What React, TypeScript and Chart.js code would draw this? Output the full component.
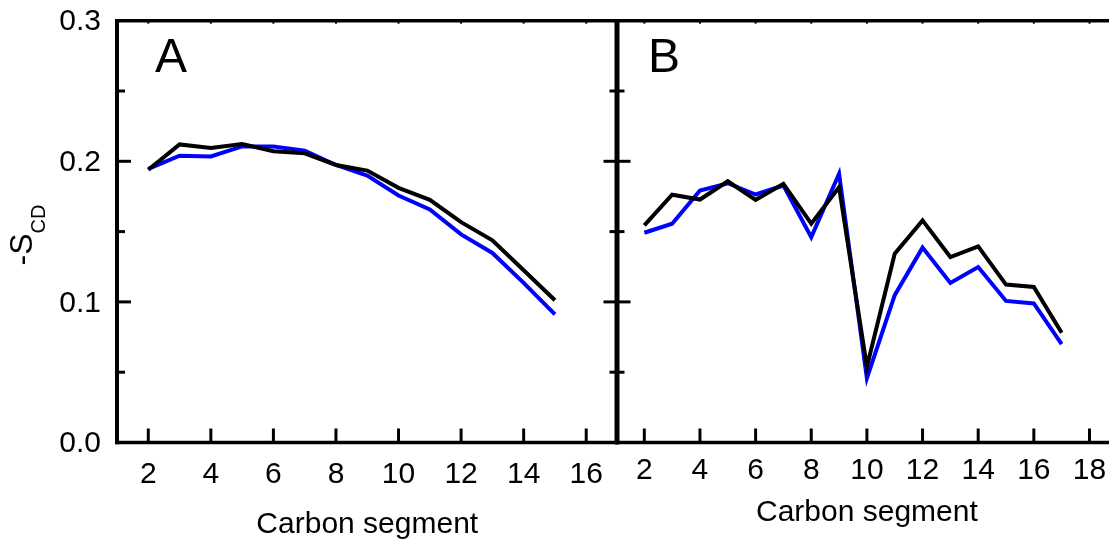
import React, { useEffect, useRef } from "react";
import { Chart, registerables } from "chart.js";

Chart.register(...registerables);

// ---------- data ----------
const carbonA = [2, 3, 4, 5, 6, 7, 8, 9, 10, 11, 12, 13, 14, 15];
const blackA = [0.194, 0.212, 0.2095, 0.2123, 0.2071, 0.2057, 0.1974, 0.1934, 0.1811, 0.1726, 0.1567, 0.1438, 0.1225, 0.1012];
const blueA = [0.1946, 0.204, 0.2035, 0.2106, 0.2106, 0.2076, 0.1974, 0.1899, 0.1757, 0.1657, 0.148, 0.1348, 0.1135, 0.0911];

const carbonB = [2, 3, 4, 5, 6, 7, 8, 9, 10, 11, 12, 13, 14, 15, 16, 17];
const blackB = [0.1544, 0.1762, 0.1728, 0.1858, 0.1726, 0.184, 0.1556, 0.1816, 0.0539, 0.1343, 0.158, 0.1319, 0.1395, 0.1123, 0.1106, 0.078];
const blueB = [0.1492, 0.1556, 0.1792, 0.1844, 0.1764, 0.1828, 0.1461, 0.1911, 0.0457, 0.1048, 0.1386, 0.1135, 0.1248, 0.1007, 0.0989, 0.07];

const yMajorTicks = [0, 0.1, 0.2, 0.3];
const yMinorTicks = [0.05, 0.15, 0.25];
const xTicksA = [2, 4, 6, 8, 10, 12, 14, 16];
const xTicksB = [2, 4, 6, 8, 10, 12, 14, 16, 18];
const panelLabels = ["A", "B"];
const xTitle = "Carbon segment";
const yTitleMain = "-S";
const yTitleSub = "CD";

const FONT = '"Liberation Sans", Arial, Helvetica, sans-serif';

type FrameOpts = {
  label: string;
  labelX: number;
  labelY: number;
  rightAxis: boolean;
  yTitle: boolean;
  xTicks: number[];
};

const framePlugin = {
  id: "frame",
  afterDraw(chart: any, _args: any, opts: FrameOpts) {
    const { ctx, chartArea } = chart;
    const { left, right, top, bottom } = chartArea;
    const xs = chart.scales.x;
    const ys = chart.scales.y;
    const seg = (x1: number, y1: number, x2: number, y2: number) => {
      ctx.beginPath();
      ctx.moveTo(x1, y1);
      ctx.lineTo(x2, y2);
      ctx.stroke();
    };
    ctx.save();
    ctx.strokeStyle = "#000";
    ctx.fillStyle = "#000";
    ctx.lineCap = "butt";

    // frame lines
    ctx.lineWidth = 3.5;
    seg(left - 1.75, top, right, top);
    seg(left - 1.75, bottom, right, bottom);
    ctx.lineWidth = 4;
    seg(left, top - 1.75, left, bottom + 1.75);
    if (opts.rightAxis) seg(right, top - 1.75, right, bottom + 1.75);

    // y ticks (inward)
    ctx.lineWidth = 3;
    for (const v of yMajorTicks) {
      const py = ys.getPixelForValue(v);
      if (v > 0 && v < 0.3) {
        seg(left, py, left + 14, py);
        if (opts.rightAxis) seg(right - 14, py, right, py);
      }
    }
    for (const v of yMinorTicks) {
      const py = ys.getPixelForValue(v);
      seg(left, py, left + 8, py);
      if (opts.rightAxis) seg(right - 8, py, right, py);
    }
    // x ticks (inward)
    for (const v of opts.xTicks) {
      const px = xs.getPixelForValue(v);
      seg(px, bottom, px, bottom - 14);
      ctx.lineWidth = 2;
      seg(px, top, px, top + 3);
      ctx.lineWidth = 3;
    }

    // panel label
    ctx.font = `48px ${FONT}`;
    ctx.textAlign = "left";
    ctx.textBaseline = "alphabetic";
    ctx.fillText(opts.label, left + opts.labelX, opts.labelY);

    // y axis title with subscript
    if (opts.yTitle) {
      ctx.save();
      ctx.translate(32, 235);
      ctx.rotate(-Math.PI / 2);
      ctx.font = `32px ${FONT}`;
      const w1 = ctx.measureText(yTitleMain).width;
      ctx.font = `20px ${FONT}`;
      const w2 = ctx.measureText(yTitleSub).width;
      const start = -(w1 + w2) / 2;
      ctx.font = `32px ${FONT}`;
      ctx.fillText(yTitleMain, start, 0);
      ctx.font = `20px ${FONT}`;
      ctx.fillText(yTitleSub, start + w1, 13);
      ctx.restore();
    }
    ctx.restore();
  },
};

type PanelProps = {
  canvasLeft: number;
  canvasWidth: number;
  areaLeft: number;
  padRight: number;
  xMin: number;
  xMax: number;
  xTicks: number[];
  carbon: number[];
  black: number[];
  blue: number[];
  label: string;
  labelX: number;
  tickPad: number;
  titlePad: number;
  rightAxis: boolean;
  showY: boolean;
};

function Panel(p: PanelProps) {
  const ref = useRef<HTMLCanvasElement | null>(null);
  useEffect(() => {
    if (!ref.current) return;
    const zeroPad = (s: any) => {
      s.paddingTop = 0;
      s.paddingBottom = 0;
      s.paddingLeft = 0;
      s.paddingRight = 0;
    };
    const chart = new Chart(ref.current, {
      type: "line",
      data: {
        datasets: [
          {
            data: p.carbon.map((x, i) => ({ x, y: p.black[i] })),
            borderColor: "#000000",
            borderWidth: 4,
            pointRadius: 0,
            tension: 0,
            fill: false,
          },
          {
            data: p.carbon.map((x, i) => ({ x, y: p.blue[i] })),
            borderColor: "#0000ff",
            borderWidth: 4,
            pointRadius: 0,
            tension: 0,
            fill: false,
          },
        ],
      },
      options: {
        animation: false,
        responsive: false,
        events: [],
        layout: { padding: { top: 20.7, right: p.padRight, left: 0, bottom: 0 } },
        plugins: {
          legend: { display: false },
          tooltip: { enabled: false },
          frame: {
            label: p.label,
            labelX: p.labelX,
            labelY: 71.7,
            rightAxis: p.rightAxis,
            yTitle: p.showY,
            xTicks: p.xTicks,
          },
        } as any,
        scales: {
          x: {
            type: "linear",
            position: "bottom",
            min: p.xMin,
            max: p.xMax,
            grid: { display: false, drawTicks: false },
            border: { display: false },
            afterBuildTicks: (s: any) => {
              s.ticks = p.xTicks.map((v) => ({ value: v }));
            },
            afterFit: (s: any) => {
              s.height = 98.5;
              zeroPad(s);
            },
            ticks: {
              autoSkip: false,
              maxRotation: 0,
              minRotation: 0,
              padding: p.tickPad,
              color: "#000",
              font: { family: FONT, size: 30, lineHeight: 1 },
            },
            title: {
              display: true,
              text: xTitle,
              color: "#000",
              font: { family: FONT, size: 30, lineHeight: 1 },
              padding: { top: 0, bottom: p.titlePad },
            },
          },
          y: {
            type: "linear",
            min: 0,
            max: 0.3,
            grid: { display: false, drawTicks: false },
            border: { display: false },
            afterBuildTicks: (s: any) => {
              s.ticks = yMajorTicks.map((v) => ({ value: v }));
            },
            afterFit: (s: any) => {
              s.width = p.areaLeft;
              zeroPad(s);
            },
            ticks: {
              display: p.showY,
              padding: 16,
              labelOffset: 1.5,
              color: "#000",
              font: { family: FONT, size: 30, lineHeight: 1 },
              callback: (v: any) => Number(v).toFixed(1),
            },
          },
        },
      } as any,
      plugins: [framePlugin as any],
    });
    return () => chart.destroy();
  }, []);
  return (
    <canvas
      ref={ref}
      width={p.canvasWidth}
      height={541}
      style={{ position: "absolute", left: p.canvasLeft, top: 0, width: p.canvasWidth, height: 541 }}
    />
  );
}

export default function App() {
  return (
    <div
      style={{
        position: "absolute",
        left: 0,
        top: 0,
        width: 1109,
        height: 541,
        overflow: "hidden",
        background: "#fff",
      }}
    >
      <Panel
        canvasLeft={0}
        canvasWidth={660}
        areaLeft={117}
        padRight={660 - 617.5}
        xMin={1}
        xMax={17}
        xTicks={xTicksA}
        carbon={carbonA}
        black={blackA}
        blue={blueA}
        label={panelLabels[0]}
        labelX={38}
        tickPad={17}
        titlePad={1.5}
        rightAxis={true}
        showY={true}
      />
      <Panel
        canvasLeft={560}
        canvasWidth={560}
        areaLeft={56.5}
        padRight={2.7}
        xMin={1}
        xMax={19}
        xTicks={xTicksB}
        carbon={carbonB}
        black={blackB}
        blue={blueB}
        label={panelLabels[1]}
        labelX={31.5}
        tickPad={13.5}
        titlePad={13.4}
        rightAxis={false}
        showY={false}
      />
    </div>
  );
}
